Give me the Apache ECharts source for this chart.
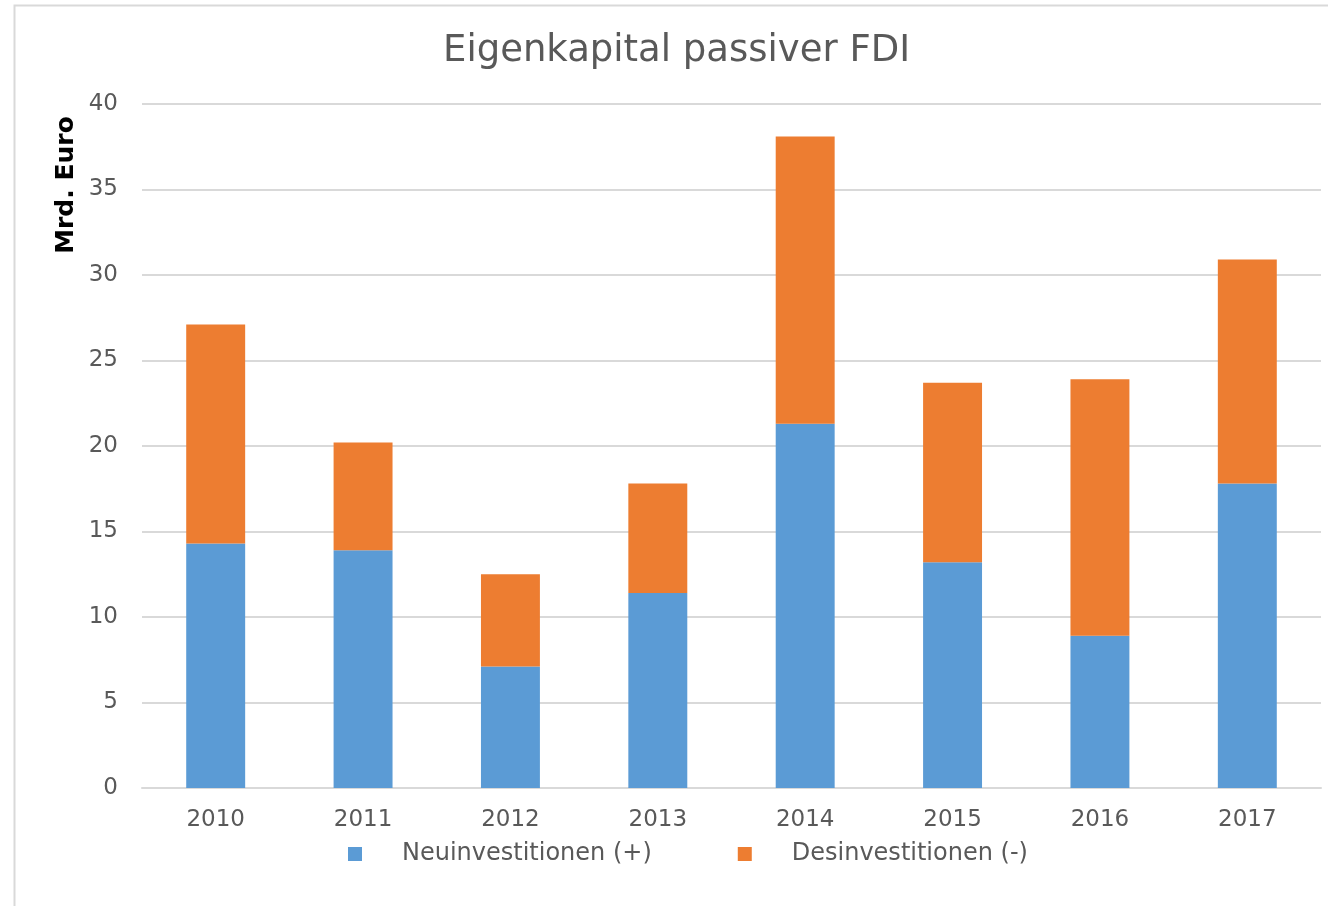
<!DOCTYPE html>
<html>
<head>
<meta charset="utf-8">
<script src="https://cdn.jsdelivr.net/npm/echarts@6/dist/echarts.min.js"></script>
<style>
  html, body { margin: 0; padding: 0; background: #fff; }
  #app { width: 1328px; height: 906px; }
</style>
</head>
<body>
<div id="app"></div>
<script>
const years = ["2010", "2011", "2012", "2013", "2014", "2015", "2016", "2017"];
const neuinvestitionen = [14.3, 13.9, 7.1, 11.4, 21.3, 13.2, 8.9, 17.8];
const desinvestitionen = [12.8, 6.3, 5.4, 6.4, 16.8, 10.5, 15.0, 13.1];
const yTicks = { min: 0, max: 40, interval: 5 };

const app = document.getElementById("app");
const myChart = echarts.init(app);

const font = "DejaVu Sans, Verdana, sans-serif";
const grey = "#595959";

myChart.setOption({
  animation: false,
  textStyle: { fontFamily: font },
  title: {
    text: "Eigenkapital passiver FDI",
    left: 443,
    top: 33,
    padding: 0,
    textStyle: { fontFamily: font, fontSize: 37, fontWeight: "normal", color: grey }
  },
  graphic: [
    {
      type: "rect",
      silent: true,
      shape: { x: 14.5, y: 5.5, width: 1340, height: 930 },
      style: { fill: null, stroke: "#D9D9D9", lineWidth: 2 }
    },
    {
      type: "text",
      x: 66,
      y: 185,
      rotation: Math.PI / 2,
      style: {
        text: "Mrd. Euro",
        fontFamily: font,
        fontSize: 25,
        fontWeight: "bold",
        fill: "#000",
        align: "center",
        verticalAlign: "middle"
      }
    }
  ],
  legend: {
    bottom: 40,
    left: 348,
    padding: 0,
    itemWidth: 14,
    itemHeight: 14,
    itemGap: 86,
    icon: "rect",
    textStyle: { fontFamily: font, fontSize: 24, color: grey, padding: [0, 0, 0, 35] },
    data: ["Neuinvestitionen (+)", "Desinvestitionen (-)"]
  },
  grid: { left: 142, right: 7, top: 104, bottom: 118 },
  xAxis: {
    type: "category",
    data: years,
    axisLine: { lineStyle: { color: "#D9D9D9", width: 2 } },
    axisTick: { show: false },
    axisLabel: { fontFamily: font, fontSize: 23, color: grey, margin: 21 }
  },
  yAxis: {
    type: "value",
    min: yTicks.min,
    max: yTicks.max,
    interval: yTicks.interval,
    axisLine: { show: false },
    axisTick: { show: false },
    splitLine: { lineStyle: { color: "#D9D9D9", width: 2 } },
    axisLabel: { fontFamily: font, fontSize: 23, color: grey, margin: 24 }
  },
  series: [
    {
      name: "Neuinvestitionen (+)",
      type: "bar",
      stack: "fdi",
      barCategoryGap: "60%",
      data: neuinvestitionen,
      itemStyle: { color: "#5B9BD5" }
    },
    {
      name: "Desinvestitionen (-)",
      type: "bar",
      stack: "fdi",
      barCategoryGap: "60%",
      data: desinvestitionen,
      itemStyle: { color: "#ED7D31" }
    }
  ]
});
</script>
</body>
</html>
